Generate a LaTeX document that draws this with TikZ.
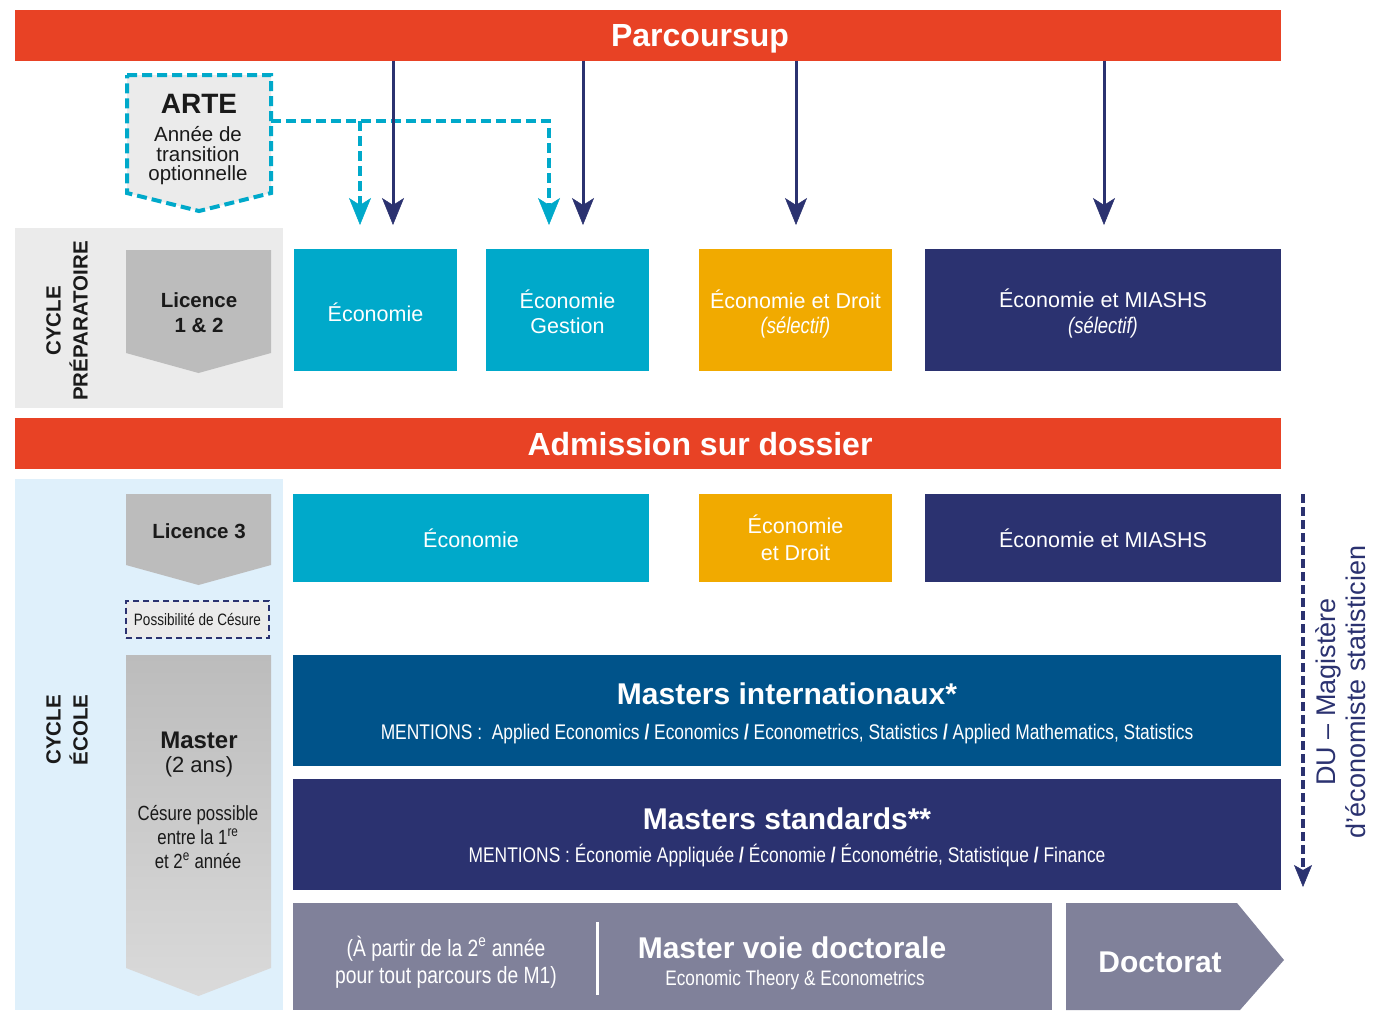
\documentclass[tikz,border=0pt]{standalone}
\usepackage{fontspec}
\setmainfont{Liberation Sans}
\newfontfamily\cond[FakeStretch=0.82]{Liberation Sans}
\usetikzlibrary{arrows.meta}
\definecolor{ured}{HTML}{E84225}
\definecolor{ucyan}{HTML}{00A9CA}
\definecolor{uyellow}{HTML}{F1AA00}
\definecolor{unavy}{HTML}{2B3270}
\definecolor{ublue}{HTML}{00538A}
\definecolor{ugray}{HTML}{80819A}
\definecolor{ulgray}{HTML}{EBEBEB}
\definecolor{ulblue}{HTML}{DFF0FB}
\definecolor{upent}{HTML}{BCBCBC}
\definecolor{upentlow}{HTML}{DADADA}
\definecolor{utext}{HTML}{1A1A1A}
\newcommand{\fs}[2]{\fontsize{#1}{#2}\selectfont}
\begin{document}
\begin{tikzpicture}[x=1pt,y=-1pt,
  bar/.style={fill=ured, inner sep=0pt, minimum width=1266pt, minimum height=51pt},
  bartext/.style={inner sep=0pt, text=white, anchor=base, font=\bfseries\fs{32}{32}},
  cell/.style={inner sep=0pt, text=white, align=center, font=\fs{21.5}{25}},
  celltext/.style={inner sep=0pt, text=white, align=center, font=\fs{21.5}{25}},
  lab/.style={inner sep=0pt, align=center, text=utext},
  wtxt/.style={inner sep=0pt, align=center, text=white, anchor=base},
  navyarrow/.style={draw=unavy, line width=3pt, -{Stealth[length=27pt,width=22pt,inset=7pt,line width=0.5pt]}},
  cyanarrow/.style={draw=ucyan, line width=4pt, dash pattern=on 10pt off 5pt, -{Stealth[length=27pt,width=22pt,inset=7pt,line width=0.5pt]}},
  sidetitle/.style={inner sep=0pt, align=center, rotate=90, text=utext, font=\bfseries\fs{20.5}{27}}
]
\useasboundingbox (0,0) rectangle (1373,1010);

% backgrounds of the two cycles
\fill[ulgray] (15,228) rectangle (283,408);
\fill[ulblue] (15,479) rectangle (283,1010);

% bars
\node[bar] (parcoursup) at (648,35) {};
\node[bartext] (parcoursuptxt) at (700,46) {Parcoursup};
\node[bar] (admission) at (648,443.5) {};
\node[bartext] (admissiontxt) at (700,455) {Admission sur dossier};

% ARTE
\draw[ucyan, line width=4pt, dash pattern=on 10pt off 5pt, fill=ulgray]
  (127,75) -- (271,75) -- (271,193) -- (199,211) -- (127,193) -- cycle;
\node[lab, font=\bfseries\fs{28}{28}] (arte) at (199,104) {ARTE};
\node[lab, font=\fs{20.5}{19.5}] (artesub) at (198,156) {Année de\\transition\\optionnelle};

% cyan dashed connectors
\coordinate (arteR) at (271,121);
\coordinate (c1) at (360,225);
\coordinate (c2) at (549,225);
\draw[cyanarrow] (arteR) -| (c2);
\draw[cyanarrow] (arteR -| c1) -- (c1);

% navy arrows from Parcoursup
\coordinate (n1) at (393,225);
\coordinate (n2) at (583,225);
\coordinate (n3) at (796,225);
\coordinate (n4) at (1104,225);
\foreach \n in {n1,n2,n3,n4} \draw[navyarrow] (parcoursup.south -| \n) -- (\n);

% cycle préparatoire
\node[sidetitle] (cprep) at (67,321) {CYCLE\\PRÉPARATOIRE};
\fill[upent] (126,250) -- (271,250) -- (271,353) -- (198.5,373) -- (126,353) -- cycle;
\node[lab, font=\bfseries\fs{20.5}{25}] (lic12) at (199,313) {Licence\\1 \& 2};

\node[cell, fill=ucyan, minimum width=163pt, minimum height=122pt] (eco1) at (375.5,310) {};
\node[celltext] (eco1t) at ([yshift=-2pt]eco1.center) {Économie};
\node[cell, fill=ucyan, minimum width=163pt, minimum height=122pt] (ecog) at (567.5,310) {};
\node[celltext] (ecogt) at ([yshift=-2pt]ecog.center) {Économie\\Gestion};
\node[cell, fill=uyellow, minimum width=193pt, minimum height=122pt] (ecod) at (795.5,310) {};
\node[celltext] (ecodt) at ([yshift=-4pt]ecod.center) {Économie et Droit\\{\cond\itshape\fs{22.5}{25}(sélectif)}};
\node[cell, fill=unavy, minimum width=356pt, minimum height=122pt] (ecom) at (1103,310) {};
\node[celltext] (ecomt) at ([yshift=-3.5pt]ecom.center) {Économie et MIASHS\\{\cond\itshape\fs{22.5}{25}(sélectif)}};

% cycle école
\node[sidetitle] (cecole) at (67,730) {CYCLE\\ÉCOLE};
\fill[upent] (126,494) -- (271,494) -- (271,565) -- (198.5,585) -- (126,565) -- cycle;
\node[lab, font=\bfseries\fs{20.5}{25}] (lic3) at (199,531) {Licence 3};
\node[draw=unavy, line width=2pt, dash pattern=on 6pt off 4pt, fill=ulgray, minimum width=143pt, minimum height=37pt, inner sep=0pt, text=utext, font=\cond\fs{16.5}{16.5}] (cesure) at (197.5,619) {Possibilité de Césure};
\shade[top color=upent, bottom color=upentlow]
  (126,655) -- (271,655) -- (271,968) -- (198.5,996) -- (126,968) -- cycle;
\node[lab, font=\fs{22}{24}] (master) at (199,755) {\textbf{\fs{24}{24}Master}\\(2 ans)};
\node[lab, font=\cond\fs{20.5}{24}] (mcesure) at (198,837) {Césure possible\\entre la 1\textsuperscript{re}\\et 2\textsuperscript{e} année};

\node[cell, fill=ucyan, minimum width=356pt, minimum height=88pt] (eco3) at (471,538) {Économie};
\node[cell, fill=uyellow, minimum width=193pt, minimum height=88pt, font=\fs{21.5}{27}] (ecod3) at (795.5,538) {Économie\\et Droit};
\node[cell, fill=unavy, minimum width=356pt, minimum height=88pt] (ecom3) at (1103,538) {Économie et MIASHS};

% masters
\node[fill=ublue, minimum width=988pt, minimum height=111pt, inner sep=0pt] (mint) at (787,710.5) {};
\node[wtxt, font=\bfseries\fs{30}{30}] (minttitle) at (787,704) {Masters internationaux*};
\node[wtxt, font=\cond\fs{21.2}{21}] (mintment) at (787,739) {MENTIONS :\ \ Applied Economics \textbf{/} Economics \textbf{/} Econometrics, Statistics \textbf{/} Applied Mathematics, Statistics};

\node[fill=unavy, minimum width=988pt, minimum height=111pt, inner sep=0pt] (mstd) at (787,834.5) {};
\node[wtxt, font=\bfseries\fs{30}{30}] (mstdtitle) at (787,829) {Masters standards**};
\node[wtxt, font=\cond\fs{21.2}{21}] (mstdment) at (787,862) {MENTIONS : Économie Appliquée \textbf{/} Économie \textbf{/} Économétrie, Statistique \textbf{/} Finance};

% master voie doctorale
\node[fill=ugray, minimum width=759pt, minimum height=107pt, inner sep=0pt] (mvd) at (672.5,956.5) {};
\draw[white, line width=3pt] (mvd.north -| 597,0) ++(0,19) -- (597,995);
\node[wtxt, font=\cond\fs{23.5}{27}] (mvdleft1) at (446,956) {(À partir de la 2\textsuperscript{e} année};
\node[wtxt, font=\cond\fs{23.5}{27}] (mvdleft2) at (446,983) {pour tout parcours de M1)};
\node[wtxt, font=\bfseries\fs{30}{30}] (mvdtitle) at (792,958) {Master voie doctorale};
\node[wtxt, font=\cond\fs{21}{21}] (mvdsub) at (795,985) {Economic Theory \& Econometrics};

% doctorat
\fill[ugray] (1066,903) -- (1237,903) -- (1284,960) -- (1240,1010) -- (1066,1010) -- cycle;
\node[wtxt, font=\bfseries\fs{30}{30}] (doct) at (1160,972) {Doctorat};

% DU
\coordinate (duS) at (1303,494);
\coordinate (duE) at (1303,887);
\draw[unavy, line width=4pt, dash pattern=on 9pt off 4pt, -{Stealth[length=22pt,width=18pt,inset=5pt,line width=0.5pt]}] (duS) -- (duE);
\node[inner sep=0pt, align=center, rotate=90, text=unavy, font=\fs{27}{30}] (du) at (1341,692) {DU – Magistère\\d’économiste statisticien};
\end{tikzpicture}
\end{document}
